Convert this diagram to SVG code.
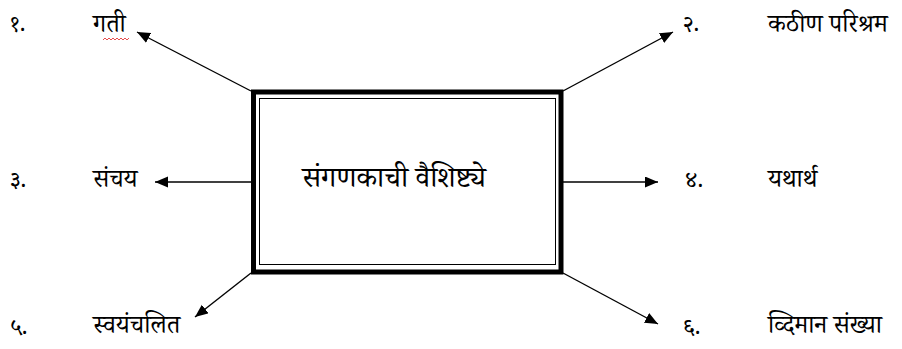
<svg xmlns="http://www.w3.org/2000/svg" width="902" height="349" viewBox="0 0 902 349">
<style>
text{font-family:"Noto Serif Devanagari","Noto Sans Devanagari","Lohit Devanagari","Noto Sans","DejaVu Sans",sans-serif;fill:#000;}
.lbl{font-size:25px;}
.num{font-size:23px;}
.ctr{font-size:29px;}
.conn line{stroke:#000;stroke-width:1.4;}
</style>
<defs>
<marker id="ah" markerUnits="userSpaceOnUse" markerWidth="14" markerHeight="12" refX="13" refY="5.5" orient="auto">
<path d="M0,0 L13,5.5 L0,11 z" fill="#000"/>
</marker>
</defs>
<rect width="902" height="349" fill="#fff"/>
<g id="connectors" class="conn">
<line x1="251" y1="91" x2="137" y2="32" marker-end="url(#ah)"/>
<line x1="563" y1="91" x2="673" y2="32" marker-end="url(#ah)"/>
<line x1="257" y1="182" x2="155" y2="182" marker-end="url(#ah)"/>
<line x1="554" y1="182" x2="658" y2="182" marker-end="url(#ah)"/>
<line x1="251" y1="273" x2="195" y2="317" marker-end="url(#ah)"/>
<line x1="563" y1="273" x2="658" y2="324" marker-end="url(#ah)"/>
</g>
<g id="center">
<rect x="253.5" y="92" width="307.5" height="180" fill="#fff" stroke="#000" stroke-width="5"/>
<rect x="259.5" y="98.5" width="296" height="166" fill="none" stroke="#000" stroke-width="1"/>
<text class="ctr" x="394" y="187" text-anchor="middle">संगणकाची वैशिष्ट्ये</text>
</g>
<g id="n1">
<text class="num" x="10" y="31">१.</text>
<text class="lbl" x="93" y="32">गती</text>
<path d="M103,40 l2,-2 l2,2 l2,-2 l2,2 l2,-2 l2,2 l2,-2 l2,2 l2,-2 l2,2 l2,-2 l2,2 l2,-2" fill="none" stroke="#e02020" stroke-width="0.8"/>
</g>
<g id="n2">
<text class="num" x="683" y="31">२.</text>
<text class="lbl" x="768" y="32">कठीण परिश्रम</text>
</g>
<g id="n3">
<text class="num" x="10" y="187">३.</text>
<text class="lbl" x="93" y="187">संचय</text>
</g>
<g id="n4">
<text class="num" x="685" y="187">४.</text>
<text class="lbl" x="768" y="187">यथार्थ</text>
</g>
<g id="n5">
<text class="num" x="10" y="334">५.</text>
<text class="lbl" x="93" y="333">स्वयंचलित</text>
</g>
<g id="n6">
<text class="num" x="683" y="334">६.</text>
<text class="lbl" x="768" y="333">व्दिमान संख्या</text>
</g>
</svg>
